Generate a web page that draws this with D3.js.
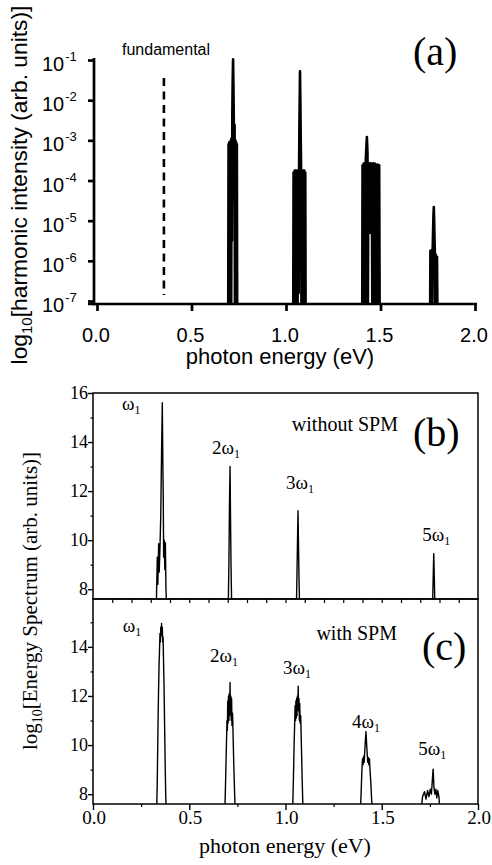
<!DOCTYPE html>
<html>
<head>
<meta charset="utf-8">
<script src="https://cdn.jsdelivr.net/npm/d3@7"></script>
<style>
    body { margin: 0; background: #fff; }
    svg { display: block; }
    .sans { font-family: "Liberation Sans", Arial, sans-serif; }
    .serif { font-family: "Liberation Serif", "Times New Roman", serif; }
</style>
</head>
<body>
<svg id="chart" width="492" height="865"></svg>
<script>
// ---- panel (a): log10 of harmonic intensity vs photon energy (eV)
const aTicksY = [-1, -2, -3, -4, -5, -6, -7];
const eTicks = [0, 0.5, 1.0, 1.5, 2.0];
const fundamentalE = 0.354;
const fundamentalSpan = [-1.45, -6.85];

const a2w = [[0.694,-8],[0.696,-3.1],[0.698,-7.6],[0.700,-3.05],[0.702,-7.6],[0.704,-3.05],[0.706,-7.6],[0.708,-3.0],[0.710,-7.2],[0.712,-2.95],[0.714,-5.5],[0.716,-2.3],[0.718,-1.5],[0.720,-0.98],[0.722,-1.7],[0.724,-2.6],[0.726,-4.5],[0.728,-2.62],[0.730,-7.6],[0.732,-3.0],[0.734,-7.6],[0.736,-3.05],[0.738,-7.6],[0.740,-3.1],[0.742,-8]];
const a3w = [[1.038,-8],[1.040,-3.8],[1.043,-7.6],[1.046,-3.75],[1.049,-7.6],[1.052,-3.75],[1.055,-7.6],[1.058,-3.75],[1.061,-7.6],[1.064,-3.78],[1.067,-6.8],[1.069,-3.8],[1.071,-2.6],[1.073,-1.8],[1.074,-1.28],[1.076,-2.0],[1.078,-3.0],[1.080,-3.75],[1.082,-7.6],[1.085,-3.75],[1.088,-7.6],[1.091,-3.75],[1.094,-7.6],[1.097,-3.75],[1.100,-7.6],[1.102,-3.8],[1.104,-8]];
const a4w = [[1.403,-8],[1.405,-3.62],[1.408,-7.6],[1.411,-3.58],[1.414,-7.6],[1.417,-3.57],[1.420,-7.6],[1.422,-3.5],[1.425,-3.2],[1.428,-2.92],[1.431,-3.3],[1.433,-7.6],[1.436,-3.56],[1.439,-5.3],[1.442,-3.6],[1.445,-5.3],[1.448,-3.57],[1.451,-5.3],[1.454,-3.6],[1.457,-7.6],[1.461,-3.57],[1.465,-7.6],[1.469,-3.58],[1.473,-7.6],[1.477,-3.6],[1.481,-7.6],[1.485,-3.6],[1.489,-7.6],[1.493,-3.62],[1.496,-8]];
const a5w = [[1.762,-8],[1.764,-5.75],[1.767,-7.6],[1.770,-5.73],[1.773,-7.6],[1.776,-5.73],[1.778,-5.3],[1.780,-4.9],[1.782,-4.66],[1.784,-5.0],[1.786,-5.5],[1.788,-5.85],[1.790,-7.6],[1.793,-5.85],[1.796,-7.6],[1.799,-5.9],[1.802,-8]];

// ---- panels (b) and (c): log10 energy spectrum
const bcTicksMajor = [8, 10, 12, 14, 16];
const bcTicksMinor = [9, 11, 13, 15];

const bW1 = [[0.328,7.0],[0.334,9.3],[0.337,8.2],[0.341,9.85],[0.344,8.7],[0.348,9.7],[0.352,11.0],[0.356,13.5],[0.360,15.6],[0.363,13.0],[0.365,11.7],[0.367,9.3],[0.370,10.0],[0.373,8.8],[0.376,9.9],[0.379,8.0],[0.384,7.0]];
const b2w = [[0.702,7.0],[0.706,9.0],[0.709,11.5],[0.712,13.0],[0.714,11.2],[0.717,9.0],[0.721,7.0]];
const b3w = [[1.056,7.0],[1.060,8.8],[1.063,10.3],[1.065,11.2],[1.067,10.1],[1.070,8.5],[1.074,7.0]];
const b5w = [[1.763,7.0],[1.767,8.4],[1.770,9.45],[1.773,8.5],[1.777,7.0]];

const cW1 = [[0.330,7.0],[0.334,8.6],[0.337,10.4],[0.340,12.0],[0.343,13.2],[0.346,14.0],[0.348,14.55],[0.350,14.2],[0.352,14.8],[0.354,14.45],[0.356,14.95],[0.358,14.5],[0.360,14.8],[0.362,14.2],[0.364,14.4],[0.366,13.6],[0.369,12.4],[0.372,10.8],[0.375,9.2],[0.378,7.9],[0.382,7.0]];
const c2w = [[0.684,7.0],[0.689,8.6],[0.693,10.0],[0.696,11.0],[0.698,10.6],[0.700,11.8],[0.702,10.9],[0.704,12.0],[0.706,11.0],[0.708,12.1],[0.710,11.2],[0.712,12.55],[0.714,11.3],[0.716,12.0],[0.718,11.0],[0.720,11.9],[0.722,10.8],[0.725,11.3],[0.728,10.3],[0.731,9.3],[0.735,8.2],[0.740,7.0]];
const c3w = [[1.036,7.0],[1.041,8.6],[1.045,10.1],[1.048,11.0],[1.050,11.6],[1.052,11.0],[1.054,11.8],[1.056,11.1],[1.058,11.9],[1.060,11.2],[1.062,12.0],[1.064,11.5],[1.066,12.4],[1.068,11.4],[1.070,11.9],[1.072,11.0],[1.074,11.7],[1.076,10.9],[1.079,11.2],[1.082,10.2],[1.086,8.8],[1.092,7.0]];
const c4w = [[1.388,7.0],[1.393,8.1],[1.397,9.0],[1.400,9.45],[1.403,9.2],[1.406,9.55],[1.409,9.3],[1.412,9.8],[1.415,10.2],[1.418,10.55],[1.421,10.1],[1.424,9.7],[1.427,9.3],[1.430,9.5],[1.433,9.2],[1.436,9.45],[1.439,9.0],[1.443,8.5],[1.448,7.7],[1.455,7.0]];
const c5w = [[1.700,7.0],[1.712,7.9],[1.722,8.1],[1.730,7.8],[1.738,8.15],[1.745,7.9],[1.752,8.2],[1.758,8.0],[1.763,8.6],[1.767,9.02],[1.771,8.3],[1.776,8.0],[1.781,8.2],[1.786,7.85],[1.791,8.15],[1.797,7.9],[1.805,7.0]];

// harmonic labels: [order text, energy of label start, value of baseline]
const bLabels = [["", 0.15, 15.3], ["2", 0.618, 13.5], ["3", 1.002, 12.1], ["5", 1.71, 9.95]];
const cLabels = [["", 0.155, 14.6], ["2", 0.608, 13.4], ["3", 0.987, 12.9], ["4", 1.345, 10.7], ["5", 1.69, 9.6]];

const svg = d3.select("#chart");

// ================= panel (a) =================
const xA = d3.scaleLinear().domain([0, 2]).range([97, 475]);
const yA = d3.scaleLog().domain([1e-7, 1e-1]).range([301, 60]);

svg.append("clipPath").attr("id", "clipA")
    .append("rect").attr("x", 95).attr("y", 0).attr("width", 390).attr("height", 303);

const lineA = d3.line()
    .x(d => xA(d[0]))
    .y(d => yA(Math.pow(10, d[1])));

const gA = svg.append("g").attr("clip-path", "url(#clipA)");
[a2w, a3w, a4w, a5w].forEach(peak => {
    gA.append("path")
        .datum(peak)
        .attr("d", lineA)
        .attr("fill", "none")
        .attr("stroke", "#000")
        .attr("stroke-width", 2.6)
        .attr("stroke-linejoin", "round");
});

// fundamental marker (dashed)
svg.append("line")
    .attr("x1", xA(fundamentalE)).attr("x2", xA(fundamentalE))
    .attr("y1", yA(Math.pow(10, fundamentalSpan[0])))
    .attr("y2", yA(Math.pow(10, fundamentalSpan[1])))
    .attr("stroke", "#000")
    .attr("stroke-width", 2.6)
    .attr("stroke-dasharray", "8,5.5");

svg.append("text")
    .attr("class", "sans")
    .attr("x", 122).attr("y", 55)
    .attr("font-size", 16)
    .text("fundamental");

// axes of (a)
const yAxisA = d3.axisLeft(yA)
    .tickValues(aTicksY.map(e => Math.pow(10, e)))
    .tickSize(6)
    .tickFormat("");
const gyA = svg.append("g").attr("transform", "translate(94,0)").call(yAxisA);
gyA.select(".domain").remove();
gyA.selectAll(".tick line").attr("stroke-width", 2.7);

const xAxisA = d3.axisBottom(xA)
    .tickValues(eTicks)
    .tickSize(7)
    .tickFormat("");
const gxA = svg.append("g").attr("transform", "translate(0,304)").call(xAxisA);
gxA.select(".domain").remove();
gxA.selectAll(".tick line").attr("stroke-width", 2.7);

svg.append("line").attr("x1", 94).attr("x2", 94).attr("y1", 58).attr("y2", 305.3)
    .attr("stroke", "#000").attr("stroke-width", 2.7);
svg.append("line").attr("x1", 88).attr("x2", 477).attr("y1", 304).attr("y2", 304)
    .attr("stroke", "#000").attr("stroke-width", 2.7);

// tick labels 10^-n
aTicksY.forEach(e => {
    const t = svg.append("text")
        .attr("class", "sans")
        .attr("x", 42)
        .attr("y", yA(Math.pow(10, e)) + 11)
        .attr("font-size", 20);
    t.append("tspan").text("10");
    t.append("tspan").attr("font-size", 13).attr("dy", -10).attr("dx", 1).text(e);
});

eTicks.forEach(v => {
    svg.append("text")
        .attr("class", "sans")
        .attr("x", xA(v) - 1)
        .attr("y", 342)
        .attr("font-size", 20)
        .attr("text-anchor", "middle")
        .text(d3.format(".1f")(v));
});

svg.append("text")
    .attr("class", "sans")
    .attr("x", 280).attr("y", 364)
    .attr("font-size", 22)
    .attr("text-anchor", "middle")
    .text("photon energy (eV)");

const titleA = svg.append("text")
    .attr("class", "sans")
    .attr("transform", "translate(27,185) rotate(-90)")
    .attr("font-size", 22.8)
    .attr("text-anchor", "middle");
titleA.append("tspan").text("log");
titleA.append("tspan").attr("font-size", 15).attr("dy", 5).text("10");
titleA.append("tspan").attr("dy", -5).text("[harmonic intensity (arb. units)]");

svg.append("text")
    .attr("class", "serif")
    .attr("x", 413).attr("y", 65)
    .attr("font-size", 40)
    .text("(a)");

// ================= panels (b) and (c) =================
const xBC = d3.scaleLinear().domain([0, 2]).range([93, 478]);
const yB = d3.scaleLinear().domain([7.6, 16]).range([599, 393]);
const yC = d3.scaleLinear().domain([7.6, 15.95]).range([804, 599]);

function drawPanel(y, top, bottom, peaks, id) {
    svg.append("clipPath").attr("id", id)
        .append("rect").attr("x", 93).attr("y", top).attr("width", 385).attr("height", bottom - top);

    const line = d3.line().x(d => xBC(d[0])).y(d => y(d[1]));
    const g = svg.append("g").attr("clip-path", `url(#${id})`);
    peaks.forEach(p => {
        g.append("path")
            .datum(p)
            .attr("d", line)
            .attr("fill", "none")
            .attr("stroke", "#000")
            .attr("stroke-width", 1.4)
            .attr("stroke-linejoin", "round");
    });

    const major = bcTicksMajor.filter(v => y(v) >= top - 0.5);
    const gy = svg.append("g").attr("transform", "translate(93,0)")
        .call(d3.axisLeft(y).tickValues(major).tickSize(5).tickFormat(""));
    gy.select(".domain").remove();
    gy.selectAll(".tick line").attr("stroke-width", 1.4);
    const gm = svg.append("g").attr("transform", "translate(93,0)")
        .call(d3.axisLeft(y).tickValues(bcTicksMinor.filter(v => y(v) > top)).tickSize(2.5).tickFormat(""));
    gm.select(".domain").remove();
    gm.selectAll(".tick line").attr("stroke-width", 1.2);

    major.forEach(v => {
        svg.append("text")
            .attr("class", "serif")
            .attr("x", 88).attr("y", y(v) + 6)
            .attr("font-size", 18)
            .attr("text-anchor", "end")
            .text(v);
    });

    svg.append("rect")
        .attr("x", 93).attr("y", top)
        .attr("width", 385).attr("height", bottom - top)
        .attr("fill", "none")
        .attr("stroke", "#000")
        .attr("stroke-width", 1.5);
}

drawPanel(yB, 393, 599, [bW1, b2w, b3w, b5w], "clipB");
drawPanel(yC, 599, 804, [cW1, c2w, c3w, c4w, c5w], "clipC");

// ticks on the (b)/(c) boundary every 0.1 eV
const gxB = svg.append("g").attr("transform", "translate(0,599)")
    .call(d3.axisBottom(xBC).tickValues(d3.range(1, 20).map(i => i / 10)).tickSize(4).tickFormat(""));
gxB.select(".domain").remove();
gxB.selectAll(".tick line").attr("stroke-width", 1.2);

// bottom axis of (c)
const gxC = svg.append("g").attr("transform", "translate(0,804)")
    .call(d3.axisBottom(xBC).tickValues(eTicks).tickSize(6).tickFormat(""));
gxC.select(".domain").remove();
gxC.selectAll(".tick line").attr("stroke-width", 1.4);
const gxCm = svg.append("g").attr("transform", "translate(0,804)")
    .call(d3.axisBottom(xBC).tickValues([0.25, 0.75, 1.25, 1.75]).tickSize(3).tickFormat(""));
gxCm.select(".domain").remove();
gxCm.selectAll(".tick line").attr("stroke-width", 1.2);

eTicks.forEach(v => {
    svg.append("text")
        .attr("class", "serif")
        .attr("x", xBC(v) + 1)
        .attr("y", 824)
        .attr("font-size", 19)
        .attr("text-anchor", "middle")
        .text(d3.format(".1f")(v));
});

svg.append("text")
    .attr("class", "serif")
    .attr("x", 285).attr("y", 853)
    .attr("font-size", 22)
    .attr("text-anchor", "middle")
    .text("photon energy (eV)");

const titleBC = svg.append("text")
    .attr("class", "serif")
    .attr("transform", "translate(37,601) rotate(-90)")
    .attr("font-size", 21)
    .attr("text-anchor", "middle");
titleBC.append("tspan").text("log");
titleBC.append("tspan").attr("font-size", 14).attr("dy", 5).text("10");
titleBC.append("tspan").attr("dy", -5).text("[Energy Spectrum (arb. units)]");

// harmonic labels
function harmonicLabel(lab, y) {
    const t = svg.append("text")
        .attr("class", "serif")
        .attr("x", xBC(lab[1]))
        .attr("y", y(lab[2]))
        .attr("font-size", 19);
    t.append("tspan").text(lab[0] + "\u03c9");
    t.append("tspan").attr("font-size", 12).attr("dy", 4).text("1");
}
bLabels.forEach(l => harmonicLabel(l, yB));
cLabels.forEach(l => harmonicLabel(l, yC));

svg.append("text").attr("class", "serif")
    .attr("x", 398).attr("y", 431).attr("font-size", 20)
    .attr("text-anchor", "end").text("without SPM");
svg.append("text").attr("class", "serif")
    .attr("x", 397).attr("y", 640).attr("font-size", 20)
    .attr("text-anchor", "end").text("with SPM");

svg.append("text").attr("class", "serif")
    .attr("x", 413).attr("y", 446).attr("font-size", 40).text("(b)");
svg.append("text").attr("class", "serif")
    .attr("x", 422).attr("y", 660).attr("font-size", 40).text("(c)");
</script>
</body>
</html>
